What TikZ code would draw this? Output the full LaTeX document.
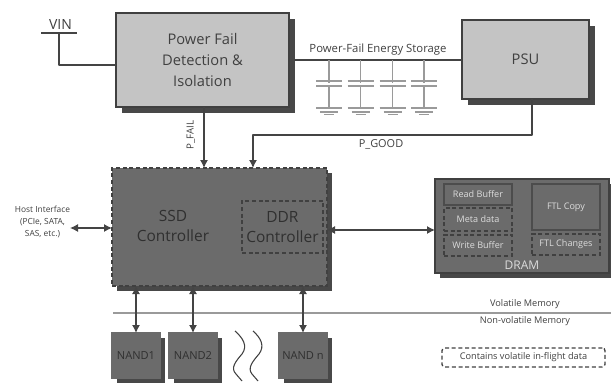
\documentclass[tikz,border=0pt]{standalone}
\usepackage{fontspec}
\setmainfont{Open Sans}
\usetikzlibrary{arrows.meta,shadows}
\definecolor{ink}{HTML}{404040}
\definecolor{wirec}{HTML}{444444}
\definecolor{lightbox}{HTML}{C4C4C4}
\definecolor{darkbox}{HTML}{6B6B6B}
\definecolor{shadowc}{HTML}{484848}
\definecolor{capc}{HTML}{9A9A9A}
\definecolor{pale}{HTML}{DCDCDC}
\definecolor{darktxt}{HTML}{303030}
\tikzset{
  x=0.75pt,y=-0.75pt,
  every node/.style={inner sep=0pt,outer sep=0pt,align=center,text=ink},
  boxat/.style n args={4}{minimum width=(#3-#1)*0.75pt,minimum height=(#4-#2)*0.75pt},
  lightblock/.style={draw=ink,line width=1pt,fill=lightbox,copy shadow={shadow xshift=4.5pt,shadow yshift=-4.5pt,fill=shadowc,draw=none},font=\fontsize{11}{15.6}\selectfont},
  darkblock/.style={draw=ink,line width=0.9pt,fill=darkbox,copy shadow={shadow xshift=4pt,shadow yshift=-4pt,fill=shadowc,draw=none}},
  ctlblock/.style={darkblock,draw=black!75,densely dashed,line width=1.1pt},
  nandblock/.style={darkblock,draw=darkbox,font=\fontsize{8.3}{11}\selectfont,text=darktxt},
  ddrblock/.style={draw=black!75,densely dashed,line width=0.8pt,fill=darkbox,font=\fontsize{11.6}{15.5}\selectfont,text=darktxt},
  solidbuf/.style={draw=black!70,line width=1.1pt,fill=darkbox,text=pale,font=\fontsize{6.8}{8}\selectfont},
  dashbuf/.style={draw=black!75,densely dashed,line width=0.9pt,fill=darkbox,text=pale,font=\fontsize{6.8}{8}\selectfont},
  wire/.style={draw=wirec,line width=0.9pt,line join=round},
  arrowboth/.style={wire,{Latex[length=6pt,width=6pt]}-{Latex[length=6pt,width=6pt]}},
  arrowone/.style={wire,-{Latex[length=6pt,width=6pt]}},
  capline/.style={draw=capc,line width=0.9pt},
  squiggle/.style={draw=ink,line width=0.8pt},
  smalltxt/.style={font=\fontsize{6.3}{9}\selectfont},
  midtxt/.style={font=\fontsize{6.9}{9}\selectfont},
}
\begin{document}
\begin{tikzpicture}
\useasboundingbox (0,0) rectangle (611,383);
% separator
\coordinate (sepL) at (113,313);
\coordinate (sepR) at (611,313);
\draw[draw=capc,line width=1.2pt] (sepL) -- (sepR);
% blocks
\node[lightblock,boxat={116}{13}{289}{107}] (pf) at (202.5,60) {Power Fail\\Detection \&\\Isolation};
\node[lightblock,boxat={462}{20}{589}{99}] (psu) at (525.5,59.5) {PSU};
\node[ctlblock,boxat={112}{168}{327}{286}] (ctl) at (219.5,227) {};
\node[font=\fontsize{11.6}{15.5}\selectfont,text=darktxt] (ctltxt) at (173,226) {SSD\\Controller};
\node[ddrblock,boxat={242}{201}{323}{253}] (ddr) at (282.5,227) {DDR\\Controller};
\node[darkblock,boxat={435}{179}{609}{273}] (dram) at (522,226) {};
\node[solidbuf,boxat={444}{184}{512}{205}] (rb) at (478,194.5) {Read Buffer};
\node[dashbuf,boxat={444}{208}{512}{231}] (meta) at (478,219.5) {Meta data};
\node[dashbuf,boxat={444}{235}{512}{256}] (wb) at (478,245.5) {Write Buffer};
\node[solidbuf,boxat={532}{184}{600}{230}] (ftl) at (566,207) {FTL Copy};
\node[dashbuf,boxat={532}{234}{600}{255}] (ftlc) at (566,244.5) {FTL Changes};
\node[text=pale,font=\fontsize{9}{11}\selectfont] (dramtxt) at (522,265) {DRAM};
\node[nandblock,boxat={112}{333}{160}{378}] (n1) at (136,355.5) {NAND1};
\node[nandblock,boxat={169}{333}{217}{378}] (n2) at (193,355.5) {NAND2};
\node[nandblock,boxat={279}{333}{327}{378}] (nn) at (303,355.5) {NAND n};
% VIN
\coordinate (vinL) at (41,33);
\coordinate (vinR) at (77,33);
\coordinate (vinM) at (59,33);
\coordinate (vinB) at (59,65);
\draw[wire,line width=1.1pt] (vinL) -- (vinR);
\draw[wire] (vinM) -- (vinB) -- (vinB -| pf.west);
\node[font=\fontsize{10.5}{12}\selectfont] (vin) at (60.5,24.5) {VIN};
% power rail
\coordinate (railL) at (294,60);
\draw[wire] (railL) -- (railL -| psu.west);
\node[font=\fontsize{8.5}{10}\selectfont] (rail) at (378,50) {Power-Fail Energy Storage};
% capacitors
\foreach \n/\cx in {a/329,b/360.5,c/392.5,d/424}{
  \coordinate (t\n) at (\cx,60);
  \coordinate (b\n) at (\cx,108);
  \draw[capline] (t\n) -- (b\n);
  \fill[white] (\cx-14,82.5) rectangle (\cx+14,85.5);
  \draw[capline] (\cx-13,81) -- (\cx+13,81);
  \draw[capline] (\cx-13,86) -- (\cx+13,86);
  \draw[capline] (\cx-13,108) -- (\cx+13,108);
  \draw[capline] (\cx-9,112) -- (\cx+9,112);
  \draw[capline] (\cx-5,114.5) -- (\cx+5,114.5);
}
% signals
\coordinate (fx) at (204,0);
\coordinate (gx) at (532,0);
\coordinate (gy) at (0,135);
\coordinate (cx) at (253,0);
\draw[arrowone] (pf.south -| fx) -- (ctl.north -| fx);
\draw[arrowone] (psu.south -| gx) -- (gx |- gy) -- (cx |- gy) -- (ctl.north -| cx);
\node[rotate=90,font=\fontsize{7.3}{9}\selectfont] (pfail) at (191,135) {P\_FAIL};
\node[font=\fontsize{8.2}{10}\selectfont] (pgood) at (381,144) {P\_GOOD};
% host
\coordinate (hostL) at (70,228);
\draw[arrowboth] (hostL) -- (hostL -| ctl.west);
\node[smalltxt] (host) at (42.5,222) {Host Interface\\(PCIe, SATA,\\SAS, etc.)};
% DRAM bus
\coordinate (busy) at (0,230);
\draw[arrowboth] (ctl.east |- busy) -- (dram.west |- busy);
% NAND buses
\draw[arrowboth] (n1.north) -- (n1.north |- ctl.south);
\draw[arrowboth] (n2.north) -- (n2.north |- ctl.south);
\draw[arrowboth] (nn.north) -- (nn.north |- ctl.south);
% break mark
\draw[squiggle] (235,331) .. controls (243,338) and (248,346) .. (242,354) .. controls (236,361) and (230,368) .. (236,374) -- (242,381);
\draw[squiggle] (253,331) .. controls (261,338) and (265,346) .. (259,354) .. controls (253,361) and (247,368) .. (252,374) -- (258,381);
% memory labels
\node[midtxt] (vol) at (525,304) {Volatile Memory};
\node[midtxt] (nvol) at (525,321) {Non-volatile Memory};
\node[draw=black!75,densely dashed,rounded corners=2pt,line width=1pt,boxat={442}{348}{605}{367},midtxt] (legend) at (523.5,357.5) {Contains volatile in-flight data};
\end{tikzpicture}
\end{document}
